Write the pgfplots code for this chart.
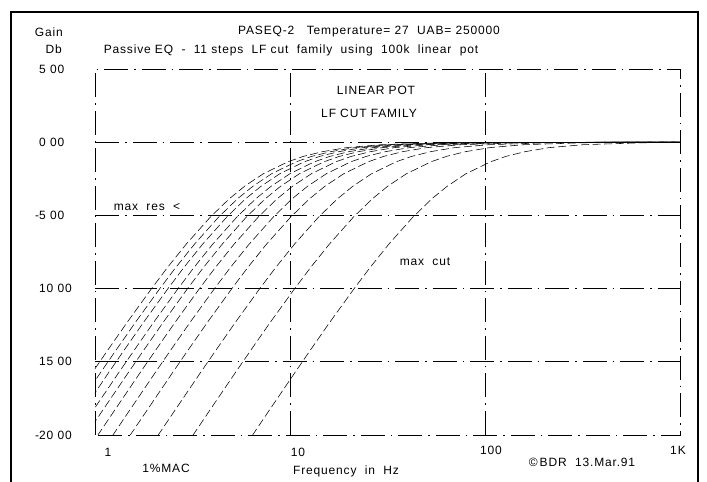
\documentclass[border=0pt]{standalone}
\usepackage{fontspec}
\setmainfont{Liberation Sans}[LetterSpace=7]
\usepackage{pgfplots}
\pgfplotsset{compat=1.18}
\pgfplotsset{lfcut/.style={black, line width=0.55pt, dash pattern=on 8pt off 3.5pt, mark=none}}

\begin{document}
\fontsize{12}{14}\selectfont
\begin{tikzpicture}[x=1pt,y=1pt]
\useasboundingbox (-95,-47) rectangle (612,435);
\begin{axis}[
    at={(0,0)}, anchor=south west,
    scale only axis, width=585pt, height=366pt,
    xmode=log, xmin=1, xmax=1000, ymin=-20, ymax=5,
    xtick={10,100}, xticklabels={},
    ytick={-15,-10,-5,0},
    yticklabels={15 00,10 00,\llap{-}5 00,0 00},
    extra y ticks={-20,5},
    extra y tick labels={\llap{-}20 00,5 00},
    extra y tick style={grid=none},
    yticklabel style={anchor=west, xshift=-60pt},
    major tick length=0pt, minor tick length=0pt,
    grid=major,
    major grid style={black, line width=0.6pt, dash pattern=on 24pt off 6pt on 1.5pt off 6pt},
    axis line style={black, line width=0.7pt},
    x axis line style={dash pattern=on 24pt off 6pt on 1.5pt off 6pt},
    clip=true,
]
% LF cut family, 11 pot steps (f in Hz, gain in dB)
\addplot[lfcut] table {
0.585 -20.04
0.731 -18.13
0.975 -15.68
1.17 -14.15
1.463 -12.30
1.95 -10.00
2.34 -8.60
2.925 -6.99
3.9 -5.12
4.875 -3.87
5.85 -3.01
7.31 -2.15
9.75 -1.34
11.7 -0.97
14.63 -0.65
19.5 -0.37
29.25 -0.17
58.5 -0.04
117 -0.01
1000 0
};
\addplot[lfcut] table {
0.645 -20.04
0.806 -18.13
1.075 -15.68
1.29 -14.15
1.613 -12.30
2.15 -10.00
2.58 -8.60
3.225 -6.99
4.3 -5.12
5.375 -3.87
6.45 -3.01
8.06 -2.15
10.75 -1.34
12.9 -0.97
16.13 -0.65
21.5 -0.37
32.25 -0.17
64.5 -0.04
129 -0.01
1000 0
};
\addplot[lfcut] table {
0.71 -20.04
0.888 -18.13
1.183 -15.68
1.42 -14.15
1.775 -12.30
2.367 -10.00
2.84 -8.60
3.55 -6.99
4.733 -5.12
5.917 -3.87
7.1 -3.01
8.875 -2.15
11.83 -1.34
14.2 -0.97
17.75 -0.65
23.67 -0.37
35.5 -0.17
71 -0.04
142 -0.01
1000 0
};
\addplot[lfcut] table {
0.8 -20.04
1 -18.13
1.333 -15.68
1.6 -14.15
2 -12.30
2.667 -10.00
3.2 -8.60
4 -6.99
5.333 -5.12
6.667 -3.87
8 -3.01
10 -2.15
13.33 -1.34
16 -0.97
20 -0.65
26.67 -0.37
40 -0.17
80 -0.04
160 -0.01
1000 0
};
\addplot[lfcut] table {
0.895 -20.04
1.119 -18.13
1.492 -15.68
1.79 -14.15
2.238 -12.30
2.983 -10.00
3.58 -8.60
4.475 -6.99
5.967 -5.12
7.458 -3.87
8.95 -3.01
11.19 -2.15
14.92 -1.34
17.9 -0.97
22.38 -0.65
29.83 -0.37
44.75 -0.17
89.5 -0.04
179 -0.01
1000 0
};
\addplot[lfcut] table {
1.03 -20.04
1.288 -18.13
1.717 -15.68
2.06 -14.15
2.575 -12.30
3.433 -10.00
4.12 -8.60
5.15 -6.99
6.867 -5.12
8.583 -3.87
10.3 -3.01
12.88 -2.15
17.17 -1.34
20.6 -0.97
25.75 -0.65
34.33 -0.37
51.5 -0.17
103 -0.04
206 -0.01
1000 0
};
\addplot[lfcut] table {
1.23 -20.04
1.538 -18.13
2.05 -15.68
2.46 -14.15
3.075 -12.30
4.1 -10.00
4.92 -8.60
6.15 -6.99
8.2 -5.12
10.25 -3.87
12.3 -3.01
15.38 -2.15
20.5 -1.34
24.6 -0.97
30.75 -0.65
41 -0.37
61.5 -0.17
123 -0.04
246 -0.01
1000 0
};
\addplot[lfcut] table {
1.51 -20.04
1.888 -18.13
2.517 -15.68
3.02 -14.15
3.775 -12.30
5.033 -10.00
6.04 -8.60
7.55 -6.99
10.07 -5.12
12.58 -3.87
15.1 -3.01
18.88 -2.15
25.17 -1.34
30.2 -0.97
37.75 -0.65
50.33 -0.37
75.5 -0.17
151 -0.04
302 -0.01
1000 0
};
\addplot[lfcut] table {
2.1 -20.04
2.625 -18.13
3.5 -15.68
4.2 -14.15
5.25 -12.30
7 -10.00
8.4 -8.60
10.5 -6.99
14 -5.12
17.5 -3.87
21 -3.01
26.25 -2.15
35 -1.34
42 -0.97
52.5 -0.65
70 -0.37
105 -0.17
210 -0.04
420 -0.01
1000 0
};
\addplot[lfcut] table {
3.17 -20.04
3.963 -18.13
5.283 -15.68
6.34 -14.15
7.925 -12.30
10.57 -10.00
12.68 -8.60
15.85 -6.99
21.13 -5.12
26.42 -3.87
31.7 -3.01
39.63 -2.15
52.83 -1.34
63.4 -0.97
79.25 -0.65
105.7 -0.37
158.5 -0.17
317 -0.04
634 -0.01
1000 0
};
\addplot[lfcut] table {
6.4 -20.04
8 -18.13
10.67 -15.68
12.8 -14.15
16 -12.30
21.33 -10.00
25.6 -8.60
32 -6.99
42.67 -5.12
53.33 -3.87
64 -3.01
80 -2.15
106.7 -1.34
128 -0.97
160 -0.65
213.3 -0.37
320 -0.17
640 -0.04
1000 -0.02
};
\end{axis}
% page frame
\draw[line width=1.2pt] (-84,-47) -- (-84,423) -- (603,423) -- (603,-47);
% texts
\node[anchor=east] at (-28,403) {Gain};
\node[anchor=east] at (-29,386) {Db};
\node at (274,403) {PASEQ-2\ \ \ Temperature= 27\ \ UAB= 250000};
\node at (196,385) {Passive EQ\ \ -\ \ 11 steps\ \ LF cut\ \ family\ \ using\ \ 100k\ \ linear\ \ pot};
\node at (281,345) {LINEAR POT};
\node at (274,322) {LF CUT FAMILY};
\node at (52,228) {max\ \ res\ \ <};
\node at (330,173) {max\ \ cut};
\node at (13,-17) {1};
\node at (203,-17) {10};
\node at (396,-15) {100};
\node at (583,-15) {1K};
\node at (71,-33) {1\%MAC};
\node at (251,-36) {Frequency\ \ in\ \ Hz};
\node at (487,-27) {\textcopyright\,BDR\ \ 13.Mar.91};
\end{tikzpicture}
\end{document}
